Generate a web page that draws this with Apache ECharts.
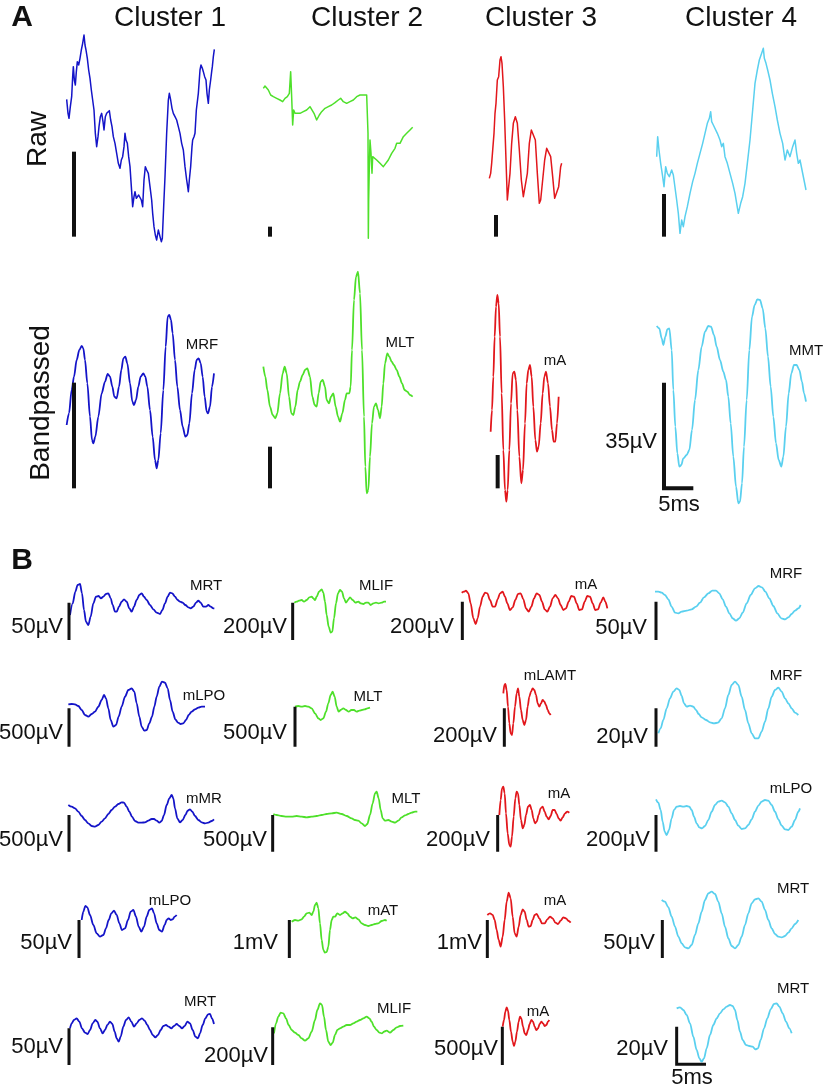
<!DOCTYPE html>
<html><head><meta charset="utf-8">
<script src="https://cdn.jsdelivr.net/npm/echarts@6/dist/echarts.min.js"></script>
<style>html,body{margin:0;padding:0;background:#fff}#c{width:825px;height:1092px}</style>
</head><body><div id="c"></div>
<script>
// ---------------- DATA (in each panel's own units) ----------------
const clusters = ['Cluster 1','Cluster 2','Cluster 3','Cluster 4'];
const rowTitlesA = ['Raw','Bandpassed'];

// Panel A raw traces
const rawC1 = [[200,298],[204,340],[207,355],[211,320],[215,290],[218,230],[220,200],[223,240],[226,255],[229,215],[232,185],[236,195],[240,175],[244,150],[248,130],[252,105],[255,135],[258,150],[262,175],[266,210],[270,235],[274,270],[278,300],[282,330],[286,400],[290,440],[294,410],[297,380],[301,350],[305,340],[309,365],[312,390],[316,350],[320,340],[324,335],[328,332],[332,360],[336,380],[340,410],[345,430],[350,460],[355,490],[360,505],[364,480],[368,470],[372,440],[375,400],[378,420],[382,430],[386,470],[390,500],[394,560],[398,620],[402,590],[405,575],[409,595],[412,600],[416,585],[420,580],[424,600],[428,620],[432,540],[436,500],[440,510],[445,520],[450,560],[455,600],[458,640],[462,680],[466,705],[470,720],[475,690],[480,710],[484,725],[487,715],[491,620],[495,530],[500,400],[505,300],[508,280],[512,300],[516,325],[520,340],[525,350],[530,360],[535,380],[540,400],[545,430],[550,450],[555,500],[560,540],[563,560],[565,575],[568,540],[572,500],[576,440],[578,420],[582,410],[585,400],[589,330],[595,280],[600,210],[603,195],[607,205],[610,215],[614,230],[618,240],[621,280],[625,310],[628,270],[632,240],[635,215],[637,200],[640,170],[643,148]];
const rawC2 = [[790,265],[795,258],[800,262],[805,270],[812,285],[820,290],[830,295],[840,300],[848,305],[855,295],[862,290],[868,280],[872,215],[875,290],[878,375],[881,330],[885,340],[890,335],[900,340],[910,335],[920,330],[930,320],[935,325],[942,340],[950,360],[958,345],[965,335],[975,325],[985,320],[995,315],[1005,308],[1015,300],[1022,295],[1030,305],[1040,310],[1050,305],[1060,300],[1070,290],[1080,285],[1090,285],[1100,285],[1103,290],[1104,400],[1105,715],[1106,600],[1108,500],[1110,420],[1113,460],[1116,520],[1118,470],[1122,475],[1130,480],[1140,490],[1150,500],[1155,495],[1165,480],[1175,460],[1185,445],[1190,430],[1200,430],[1210,410],[1220,400],[1230,390],[1238,382]];
const rawC3 = [[238,535],[242,520],[245,490],[248,485],[252,400],[255,340],[258,310],[262,240],[266,230],[270,180],[273,170],[276,190],[280,260],[284,360],[288,480],[292,600],[296,605],[300,520],[305,430],[310,370],[316,350],[322,370],[328,450],[334,540],[340,590],[346,595],[352,520],[358,430],[364,390],[370,385],[376,420],[382,520],[388,610],[392,600],[398,540],[404,480],[410,445],[416,440],[422,470],[428,530],[434,595],[440,600],[446,560],[452,500],[455,490]];
const rawC4 = [[740,470],[743,410],[747,450],[752,490],[758,530],[762,560],[767,500],[772,520],[778,530],[785,510],[790,525],[795,520],[800,600],[805,640],[810,700],[815,660],[820,680],[825,650],[832,620],[840,580],[848,545],[855,520],[862,490],[870,460],[878,430],[885,400],[892,370],[898,355],[902,335],[905,365],[910,375],[916,380],[922,400],[930,420],[935,440],[940,430],[945,470],[952,490],[960,520],[968,550],[975,580],[980,610],[985,640],[992,610],[998,590],[1005,550],[1012,490],[1020,420],[1028,330],[1035,250],[1042,210],[1048,180],[1055,160],[1060,145],[1063,175],[1068,190],[1073,210],[1080,240],[1087,280],[1095,320],[1102,360],[1110,400],[1118,430],[1125,480],[1132,450],[1140,470],[1148,440],[1155,420],[1160,460],[1165,490],[1170,480],[1176,510],[1182,540],[1188,570]];

// Panel A bandpassed traces
const bpC1 = [[200,525],[207,490],[215,420],[222,380],[230,330],[238,300],[245,288],[250,295],[255,330],[262,400],[270,500],[276,570],[280,580],[286,560],[295,500],[305,430],[315,395],[323,372],[330,380],[337,410],[343,440],[350,445],[357,410],[364,360],[370,325],[376,320],[382,340],[390,400],[397,455],[402,465],[408,450],[415,410],[422,380],[430,370],[436,380],[442,410],[450,480],[458,560],[465,630],[470,655],[475,630],[482,550],[490,420],[497,290],[503,200],[508,195],[513,210],[518,250],[525,330],[532,410],[540,480],[548,530],[556,560],[562,555],[568,520],[576,430],[584,360],[590,330],[596,325],[602,340],[608,380],[614,440],[620,485],[624,490],[630,470],[636,410],[642,370]];
const bpC2 = [[790,350],[796,380],[802,420],[810,470],[818,495],[826,505],[832,490],[840,430],[848,370],[854,350],[860,370],[867,440],[874,490],[880,495],[886,470],[893,420],[900,395],[908,375],[915,360],[922,355],[930,380],[937,440],[944,465],[950,470],[956,430],[962,395],[968,390],[975,410],[980,450],[987,460],[993,440],[1000,430],[1007,470],[1014,500],[1020,515],[1027,490],[1035,450],[1040,430],[1048,430],[1052,410],[1056,300],[1062,150],[1068,80],[1074,65],[1080,130],[1086,300],[1092,500],[1096,650],[1100,730],[1105,720],[1110,620],[1116,520],[1122,470],[1128,460],[1134,480],[1140,505],[1145,470],[1150,400],[1155,340],[1162,310],[1168,320],[1175,335],[1182,345],[1190,360],[1198,380],[1206,400],[1214,420],[1222,425],[1230,435],[1238,440]];
const bpC3 = [[242,545],[246,480],[250,380],[254,260],[258,170],[262,135],[266,160],[270,260],[275,430],[280,600],[285,720],[289,755],[293,720],[298,600],[303,460],[308,370],[313,365],[318,390],[322,480],[328,620],[334,700],[339,660],[345,520],[350,400],[355,360],[360,345],[365,380],[370,470],[376,570],[381,605],[386,590],[392,520],[398,430],[403,380],[408,365],[414,400],[420,470],[426,540],[431,575],[436,575],[441,520],[446,440]];
const bpC4 = [[740,228],[748,235],[755,265],[760,285],[766,260],[772,238],[778,235],[785,300],[790,420],[796,530],[802,610],[808,650],[814,645],[820,625],[830,615],[838,600],[846,540],[855,450],[865,360],[875,290],[885,245],[895,228],[903,230],[912,255],[920,290],[930,330],[940,365],[948,390],[955,440],[962,520],[970,620],[978,710],[985,760],[990,755],[996,700],[1002,590],[1010,450],[1018,300],[1026,200],[1034,165],[1042,148],[1050,150],[1058,175],[1066,235],[1074,320],[1082,410],[1090,500],[1098,580],[1106,630],[1114,650],[1120,620],[1128,530],[1136,430],[1144,370],[1152,345],[1160,345],[1168,360],[1176,395],[1182,430],[1188,455]];

// Panel B traces (row r, column c)
const b1c1 = [[210,165],[218,130],[226,95],[233,75],[240,72],[246,100],[252,150],[258,185],[265,195],[272,170],[280,130],[288,110],[296,108],[303,115],[310,110],[318,102],[325,100],[332,115],[338,135],[345,155],[350,155],[357,140],[365,125],[372,118],[380,125],[388,145],[395,155],[402,140],[410,120],[418,105],[425,100],[432,110],[440,120],[450,135],[460,148],[470,158],[480,162],[487,150],[495,130],[503,110],[510,98],[517,100],[525,110],[533,120],[540,125],[548,128],[556,135],[565,142],[572,145],[580,140],[588,128],[595,122],[602,128],[610,140],[618,140],[625,135],[632,140],[640,145],[643,145]];
const b1c2 = [[883,128],[890,125],[897,122],[905,120],[912,125],[920,120],[928,112],[935,110],[940,115],[945,120],[950,110],[957,95],[965,88],[970,98],[975,125],[980,165],[986,200],[992,218],[997,215],[1002,175],[1008,130],[1014,100],[1020,90],[1026,95],[1032,115],[1038,128],[1044,120],[1050,112],[1058,120],[1066,128],[1075,125],[1082,130],[1090,132],[1098,128],[1105,128],[1112,135],[1120,130],[1128,128],[1136,130],[1145,128],[1152,125],[1158,125]];
const b1c3 = [[155,98],[162,95],[168,92],[175,100],[182,130],[190,175],[197,192],[203,175],[210,140],[218,110],[225,98],[232,100],[240,120],[248,140],[255,140],[263,118],[270,100],[278,95],[285,110],[292,130],[300,150],[308,142],[316,120],[324,102],[332,100],[340,118],[348,145],[356,155],[364,140],[372,115],[380,100],[388,105],[396,125],[404,148],[412,155],[420,140],[428,115],[436,105],[444,115],[452,135],[460,150],[468,145],[476,125],[484,108],[492,110],[500,130],[508,150],[516,148],[524,125],[532,108],[540,110],[548,130],[556,150],[564,148],[572,128],[580,112],[586,125],[592,145]];
const b1c4 = [[735,95],[745,95],[755,98],[765,105],[775,118],[785,140],[795,158],[805,160],[815,155],[830,152],[845,148],[858,140],[870,128],[882,112],[895,100],[907,92],[918,92],[928,100],[938,118],[948,140],[958,160],[968,175],[978,182],[988,175],[998,158],[1010,130],[1022,105],[1035,85],[1046,78],[1056,82],[1066,95],[1078,115],[1090,138],[1102,160],[1114,175],[1125,178],[1135,172],[1145,162],[1155,152],[1165,145],[1172,135]];
const b2c1 = [[205,433],[215,432],[225,433],[235,438],[245,450],[255,465],[265,470],[275,462],[285,455],[295,440],[305,420],[312,405],[318,415],[325,445],[332,480],[340,500],[348,495],[356,470],[365,440],[375,410],[385,390],[395,385],[403,395],[410,430],[418,470],[425,500],[433,512],[440,510],[448,490],[456,470],[463,440],[470,410],[478,380],[486,365],[495,368],[503,385],[510,420],[518,455],[526,478],[534,488],[542,492],[550,490],[558,480],[566,465],[575,455],[585,448],[595,443],[605,440],[615,440]];
const b2c2 = [[885,440],[895,438],[905,440],[915,438],[925,440],[935,445],[945,460],[955,475],[962,480],[970,475],[978,455],[985,430],[992,405],[998,395],[1004,410],[1010,440],[1016,455],[1022,450],[1030,445],[1038,450],[1046,455],[1054,450],[1062,450],[1070,455],[1078,452],[1086,450],[1094,448],[1102,445],[1110,443]];
const b2c3 = [[280,400],[283,375],[286,372],[290,390],[294,440],[298,490],[302,520],[306,525],[310,490],[315,440],[320,400],[324,385],[328,410],[333,450],[338,480],[343,495],[348,480],[353,440],[358,410],[363,395],[368,385],[373,390],[378,405],[383,430],[388,440],[393,430],[398,420],[403,425],[408,435],[413,450],[418,460],[422,465]];
const b2c4 = [[745,520],[752,505],[760,480],[770,445],[780,415],[790,395],[800,385],[808,390],[815,408],[822,430],[830,440],[840,437],[850,440],[858,450],[866,462],[875,472],[888,480],[900,487],[912,490],[924,488],[935,475],[945,445],[955,405],[965,375],[975,365],[985,375],[995,410],[1005,450],[1015,490],[1025,520],[1035,535],[1045,535],[1055,515],[1065,485],[1075,445],[1085,410],[1095,390],[1105,383],[1115,395],[1125,415],[1135,430],[1145,445],[1155,458],[1165,465]];
const b3c1 = [[205,195],[215,200],[225,205],[235,215],[245,228],[255,240],[265,250],[275,258],[285,260],[295,255],[305,245],[315,235],[325,222],[335,210],[345,200],[355,192],[365,187],[372,188],[380,200],[388,215],[396,230],[405,243],[415,248],[425,248],[435,247],[445,242],[455,237],[462,237],[470,242],[478,248],[485,243],[492,225],[500,195],[508,175],[515,165],[520,175],[525,205],[532,235],[540,247],[548,240],[556,225],[563,212],[570,208],[577,215],[585,228],[595,240],[605,247],[615,250],[625,248],[635,243],[642,238]];
const b3c2 = [[820,222],[830,225],[845,228],[860,230],[875,230],[890,228],[905,230],[920,232],[935,230],[950,228],[965,225],[980,222],[995,220],[1010,218],[1025,222],[1040,228],[1055,235],[1065,240],[1075,242],[1085,250],[1095,258],[1102,252],[1110,225],[1118,190],[1125,160],[1130,155],[1136,175],[1142,210],[1148,235],[1155,242],[1165,240],[1175,245],[1185,248],[1195,242],[1205,232],[1215,226],[1225,222],[1235,218],[1245,215],[1252,215]];
const b3c3 = [[268,225],[272,180],[276,145],[280,140],[284,160],[288,220],[293,280],[298,315],[302,320],[306,290],[311,230],[316,175],[320,155],[324,160],[328,195],[333,240],[338,265],[343,255],[348,225],[354,200],[360,195],[365,210],[370,235],[375,250],[380,245],[386,225],[392,205],[398,200],[404,215],[410,230],[416,238],[422,228],[428,210],[434,210],[440,222],[446,235],[452,242],[458,232],[465,220],[472,215],[478,218]];
const b3c4 = [[738,178],[745,188],[752,210],[758,245],[764,275],[770,285],[777,270],[785,235],[792,210],[800,200],[810,198],[820,200],[830,198],[838,200],[845,210],[852,230],[860,250],[868,262],[876,265],[885,258],[895,240],[905,215],[915,195],[925,185],[935,182],[945,187],[955,200],[965,220],[975,240],[985,257],[995,267],[1005,265],[1015,255],[1025,238],[1035,215],[1045,197],[1055,185],[1065,180],[1075,182],[1085,195],[1095,215],[1105,238],[1115,257],[1125,268],[1135,270],[1145,260],[1155,240],[1165,215],[1170,205]];
const b4c1 = [[245,300],[250,275],[256,258],[262,262],[270,285],[280,315],[290,340],[300,350],[310,345],[318,325],[326,300],[334,280],[342,272],[350,285],[358,310],[366,330],[375,325],[384,300],[392,275],[400,270],[408,290],[416,320],[424,335],[432,320],[440,290],[448,270],[456,265],[462,280],[470,310],[478,330],[486,335],[494,315],[500,300],[506,295],[512,300],[518,298],[524,290],[530,285]];
const b4c2 = [[875,305],[885,300],[895,302],[905,298],[912,290],[920,280],[928,278],[935,285],[940,275],[945,255],[950,248],[955,265],[960,310],[965,360],[970,390],[975,398],[980,396],[985,380],[990,330],[995,300],[1000,290],[1005,290],[1012,280],[1020,285],[1028,280],[1035,275],[1042,280],[1050,290],[1058,295],[1066,292],[1075,298],[1085,310],[1095,315],[1105,318],[1115,315],[1125,312],[1135,310],[1145,303],[1155,300],[1160,302]];
const b4c3 = [[232,285],[240,280],[248,285],[254,300],[260,330],[266,360],[272,380],[278,350],[284,300],[290,245],[296,218],[302,235],[308,290],[314,340],[320,350],[326,320],[332,285],[338,268],[344,275],[350,300],[356,320],[362,318],[368,300],[374,285],[380,282],[388,295],[396,310],[404,310],[412,298],[420,290],[428,295],[436,308],[444,312],[452,302],[460,292],[468,295],[476,303],[482,308]];
const b4c4 = [[755,240],[765,245],[775,262],[785,290],[795,320],[805,350],[815,370],[825,382],[835,385],[845,375],[855,345],[865,310],[875,275],[885,240],[895,220],[905,215],[915,222],[925,245],[935,280],[945,320],[955,355],[965,378],[975,385],[985,375],[995,350],[1005,315],[1015,280],[1025,250],[1035,238],[1045,235],[1055,245],[1065,270],[1075,300],[1085,325],[1095,342],[1105,350],[1115,352],[1125,348],[1135,338],[1145,325],[1155,312],[1165,300]];
const b5c1 = [[210,325],[215,310],[222,300],[230,295],[238,305],[246,325],[255,338],[263,342],[270,330],[278,310],[286,300],[292,305],[300,325],[308,340],[315,330],[322,315],[330,305],[337,312],[344,335],[350,355],[356,365],[362,350],[370,320],[378,300],[386,292],[394,305],[402,320],[410,310],[418,300],[426,295],[434,302],[442,315],[450,330],[458,345],[466,352],[474,345],[482,330],[490,318],[498,315],[506,320],[514,325],[522,318],[530,312],[538,318],[546,325],[554,318],[562,305],[570,310],[578,330],[586,350],[594,355],[600,340],[608,315],[616,295],[624,283],[630,282],[636,295],[642,312]];
const b5c2 = [[822,340],[828,310],[835,290],[842,278],[850,280],[858,295],[866,315],[875,330],[885,338],[895,345],[905,355],[915,362],[925,355],[935,335],[945,300],[952,270],[960,250],[966,255],[972,290],[978,330],[985,365],[992,375],[998,368],[1005,345],[1012,330],[1020,325],[1030,320],[1040,315],[1050,315],[1060,310],[1070,305],[1080,300],[1090,295],[1100,290],[1108,295],[1115,305],[1122,320],[1130,330],[1138,338],[1146,340],[1152,335],[1160,332],[1170,338],[1180,330],[1190,322],[1200,318],[1210,317]];
const b5c3 = [[278,320],[282,300],[286,275],[290,262],[294,272],[298,300],[303,335],[308,365],[312,378],[316,365],[321,335],[326,305],[330,290],[334,295],[339,320],[344,340],[349,345],[354,330],[359,312],[364,300],[369,305],[374,320],[379,330],[384,325],[389,312],[394,305],[399,310],[404,318],[409,315],[414,305],[418,300]];
const b5c4 = [[800,265],[810,262],[820,270],[830,285],[840,310],[850,350],[860,390],[868,415],[875,425],[882,415],[890,385],[900,345],[910,315],[920,295],[930,280],[940,268],[950,260],[960,255],[968,258],[975,270],[982,300],[990,335],[998,360],[1008,375],[1018,378],[1028,380],[1036,388],[1044,385],[1052,360],[1062,325],[1072,295],[1082,268],[1092,252],[1100,250],[1108,260],[1118,280],[1128,305],[1138,325],[1145,340]];

// Region names and scale-bar labels
const regionsA = ['MRF','MLT','mA','MMT'];
const regionsB = [['MRT','MLIF','mA','MRF'],['mLPO','MLT','mLAMT','MRF'],['mMR','MLT','mA','mLPO'],['mLPO','mAT','mA','MRT'],['MRT','MLIF','mA','MRT']];
const scalesB = [['50µV','200µV','200µV','50µV'],['500µV','500µV','200µV','20µV'],['500µV','500µV','200µV','200µV'],['50µV','1mV','1mV','50µV'],['50µV','200µV','500µV','20µV']];
const scaleA = '35µV', timeScale = '5ms';

// ---------------- LAYOUT ----------------
const BLUE='#1414c8', GREEN='#4ee02a', RED='#e2171c', CYAN='#5ad0ef';
// frames: [left, top, width, height] of each drawing window; axis units are 3 per pixel
const FRAMES = [[0,0,420,250],[410,0,415,250],[0,250,420,270],[410,250,415,270],
 [0,560,420,180],[410,560,415,180],[0,740,420,180],[410,740,415,180],
 [0,820,420,120],[410,820,415,120],[0,920,420,172],[410,920,415,172]];

const traces = [
 {d:rawC1,f:0,c:BLUE,raw:1},{d:rawC2,f:0,c:GREEN,raw:1},{d:rawC3,f:1,c:RED,raw:1},{d:rawC4,f:1,c:CYAN,raw:1},
 {d:bpC1,f:2,c:BLUE},{d:bpC2,f:2,c:GREEN},{d:bpC3,f:3,c:RED},{d:bpC4,f:3,c:CYAN},
 {d:b1c1,f:4,c:BLUE},{d:b1c2,f:4,c:GREEN},{d:b1c3,f:5,c:RED},{d:b1c4,f:5,c:CYAN},
 {d:b2c1,f:4,c:BLUE},{d:b2c2,f:4,c:GREEN},{d:b2c3,f:5,c:RED},{d:b2c4,f:5,c:CYAN},
 {d:b3c1,f:6,c:BLUE},{d:b3c2,f:6,c:GREEN},{d:b3c3,f:7,c:RED},{d:b3c4,f:7,c:CYAN},
 {d:b4c1,f:8,c:BLUE},{d:b4c2,f:8,c:GREEN},{d:b4c3,f:9,c:RED},{d:b4c4,f:9,c:CYAN},
 {d:b5c1,f:10,c:BLUE},{d:b5c2,f:10,c:GREEN},{d:b5c3,f:11,c:RED},{d:b5c4,f:11,c:CYAN}
];
// scale bars: frame, x, y0, y1, [x1 for horizontal time bar], width
const bars = [
 [0,222,455,710,null,4],[0,810,680,710,null,4],[1,258,645,710,null,4],[1,762,582,710,null,4],
 [2,222,398,715,null,4],[2,810,590,715,null,4],[3,263,615,715,null,4],[3,762,398,715,850,4],
 [4,207,128,240,null,3],[4,878,128,240,null,3],[5,157,125,240,null,3],[5,738,125,240,null,3],
 [4,207,445,560,null,3],[4,885,440,560,null,3],[5,283,445,560,null,3],[5,738,445,560,null,3],
 [6,207,225,335,null,3],[6,818,225,335,null,3],[7,263,225,335,null,3],[7,738,225,335,null,3],
 [8,237,300,414,null,3],[8,868,300,414,null,3],[9,232,300,414,null,3],[9,757,300,414,null,3],
 [10,207,325,435,null,3],[10,818,322,435,null,3],[11,277,320,435,null,3],[11,800,320,433,888,3]
];

const grid = FRAMES.map(f=>({left:f[0],top:f[1],width:f[2],height:f[3]}));
const xAxis = FRAMES.map((f,i)=>({type:'value',gridIndex:i,min:0,max:f[2]*3,show:false}));
const yAxis = FRAMES.map((f,i)=>({type:'value',gridIndex:i,min:0,max:f[3]*3,inverse:true,show:false}));
const series = [];
traces.forEach(t=>series.push({type:'line',xAxisIndex:t.f,yAxisIndex:t.f,data:t.d,showSymbol:false,symbol:'none',
  smooth:t.raw?false:0.3,smoothMonotone:'x',clip:false,silent:true,lineStyle:{color:t.c,width:t.raw?1.5:1.8,join:'round'}}));
bars.forEach(b=>{
  const pts = b[4]!=null ? [[b[1],b[2]],[b[1],b[3]],[b[4],b[3]]] : [[b[1],b[2]],[b[1],b[3]]];
  series.push({type:'line',xAxisIndex:b[0],yAxisIndex:b[0],data:pts,symbol:'none',clip:false,silent:true,
    lineStyle:{color:'#111',width:b[5],cap:'butt',join:'miter'}});
});

// text
const FF = '"Liberation Sans", Arial, Helvetica, sans-serif';
const g = [];
function txt(s,x,y,size,align,opts){
  g.push(Object.assign({type:'text',x:x,y:y,silent:true,style:{text:s,fontFamily:FF,fontSize:size,fill:'#111',
    align:align||'center',verticalAlign:'middle',fontWeight:(opts&&opts.bold)?'bold':'normal'}},
    (opts&&opts.rot)?{rotation:Math.PI/2}:{}));
}
txt('A',22,18,30,'center',{bold:1});
txt('B',22,561,30,'center',{bold:1});
const clusterX=[170,367,541,741];
clusters.forEach((c,i)=>txt(c,clusterX[i],18,28));
txt(rowTitlesA[0],38,139,28,'center',{rot:1});
txt(rowTitlesA[1],41,403,28,'center',{rot:1});
const regAPos=[[202,345],[400,343],[555,361],[806,351]];
regionsA.forEach((r,i)=>txt(r,regAPos[i][0],regAPos[i][1],15));
txt(scaleA,657,442,22,'right');
txt(timeScale,679,505,22,'center');
const regBPos=[
 [[206,586],[376,586],[586,585],[786,574]],
 [[204,696],[368,697],[550,676],[786,676]],
 [[204,799],[406,799],[559,794],[791,789]],
 [[170,901],[383,911],[555,901],[793,889]],
 [[200,1002],[394,1009],[538,1012],[793,989]]];
const scaleBPos=[
 [[63,627],[287,627],[454,627],[647,628]],
 [[63,733],[287,733],[497,736],[648,737]],
 [[63,840],[267,840],[490,840],[650,840]],
 [[72,943],[278,943],[482,943],[655,943]],
 [[63,1047],[268,1056],[498,1049],[668,1049]]];
regionsB.forEach((row,r)=>row.forEach((s,c)=>txt(s,regBPos[r][c][0],regBPos[r][c][1],15)));
scalesB.forEach((row,r)=>row.forEach((s,c)=>txt(s,scaleBPos[r][c][0],scaleBPos[r][c][1],22,'right')));
txt(timeScale,692,1078,22,'center');

const chart = echarts.init(document.getElementById('c'),null,{renderer:'canvas'});
chart.setOption({animation:false,backgroundColor:'#fff',grid,xAxis,yAxis,series,graphic:{elements:g}});
</script></body></html>
